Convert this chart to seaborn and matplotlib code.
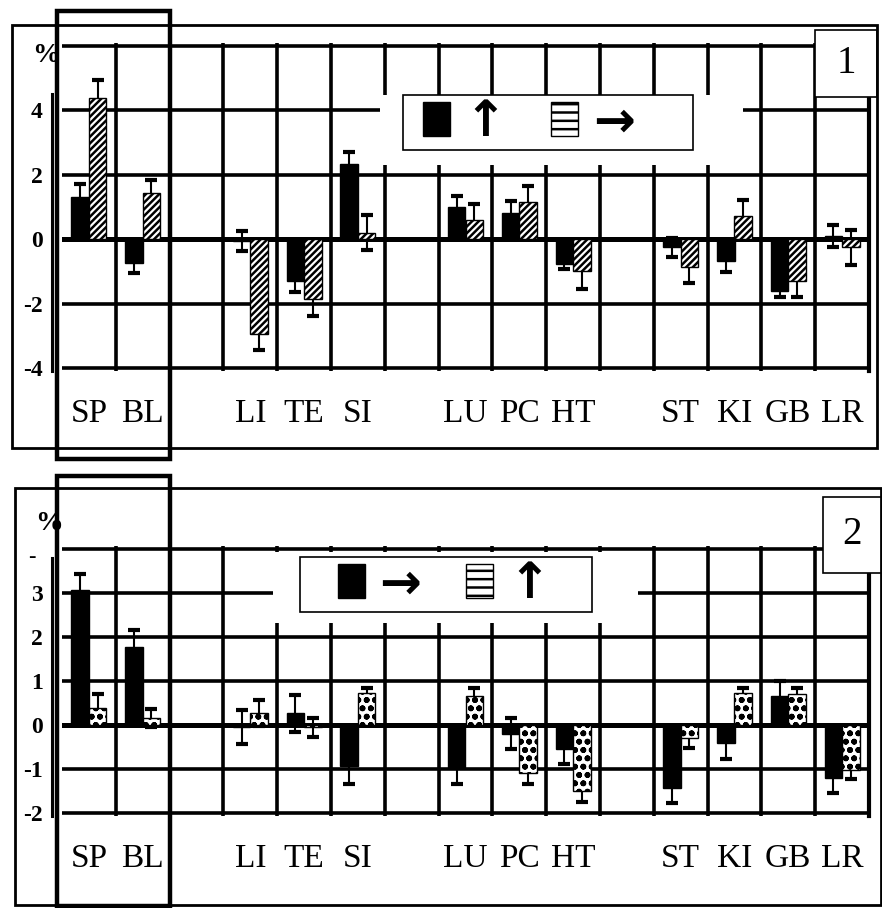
import numpy as np
import pandas as pd
import matplotlib
matplotlib.use("Agg")
import matplotlib.pyplot as plt
import seaborn as sns
from matplotlib.patches import Patch, Rectangle

# column layout of both panels (blank columns are the gaps between organ groups)
columns = ["SP", "BL", "", "LI", "TE", "SI", " ", "LU", "PC", "HT", "  ", "ST", "KI", "GB", "LR"]
organs = ["SP", "BL", "LI", "TE", "SI", "LU", "PC", "HT", "ST", "KI", "GB", "LR"]

# panel 1 (%)
p1_black = [1.3, -0.75, -0.05, -1.3, 2.35, 1.0, 0.8, -0.77, -0.25, -0.68, -1.6, 0.1]
p1_black_err = [0.4, 0.3, 0.32, 0.35, 0.37, 0.35, 0.4, 0.17, 0.3, 0.33, 0.2, 0.35]
p1_hatch = [4.4, 1.45, -2.95, -1.85, 0.2, 0.6, 1.15, -1.0, -0.85, 0.72, -1.3, -0.25]
p1_hatch_err = [0.55, 0.4, 0.5, 0.55, 0.55, 0.5, 0.5, 0.55, 0.5, 0.5, 0.5, 0.55]

# panel 2 (%)
p2_black = [3.07, 1.78, -0.05, 0.27, -0.93, -0.97, -0.2, -0.55, -1.42, -0.4, 0.65, -1.2]
p2_black_err = [0.35, 0.38, 0.38, 0.42, 0.4, 0.36, 0.35, 0.33, 0.35, 0.37, 0.35, 0.35]
p2_hatch = [0.38, 0.16, 0.27, -0.05, 0.72, 0.65, -1.1, -1.5, -0.3, 0.72, 0.7, -1.02]
p2_hatch_err = [0.32, 0.2, 0.3, 0.22, 0.12, 0.18, 0.25, 0.25, 0.22, 0.13, 0.15, 0.2]

plt.rcParams["font.family"] = ["Liberation Serif", "DejaVu Serif"]
plt.rcParams["hatch.linewidth"] = 1.8

W, H = 882, 908
fig = plt.figure(figsize=(W / 100, H / 100), dpi=100)


def fr(x0, y0, x1, y1):
    # pixel box -> figure fraction [left, bottom, width, height]
    return [x0 / W, 1 - y1 / H, (x1 - x0) / W, (y1 - y0) / H]


def panel(ax, black, black_err, hatch, hatch_err, pattern, ylim, yticks, ylabels, spine_top):
    df = pd.DataFrame({"organ": organs * 2,
                       "series": ["a"] * len(organs) + ["b"] * len(organs),
                       "value": black + hatch})
    sns.barplot(data=df, x="organ", y="value", hue="series", order=columns,
                hue_order=["a", "b"], palette={"a": "black", "b": "white"},
                edgecolor="black", linewidth=1, width=0.65, errorbar=None,
                legend=False, ax=ax)
    for bar in ax.containers[1]:
        bar.set_hatch(pattern)
    for cont, err in zip(ax.containers, [black_err, hatch_err]):
        for bar in cont:
            h = bar.get_height()
            if np.isnan(h):
                continue
            xc = bar.get_x() + bar.get_width() / 2
            i = organs.index(columns[int(round(xc))])
            ax.errorbar(xc, h, yerr=err[i], fmt="none", ecolor="black",
                        elinewidth=1.5, capsize=4, capthick=3, zorder=0.9)
    for s in ["top", "bottom"]:
        ax.spines[s].set_visible(False)
    ax.spines["right"].set_linewidth(3)
    ax.spines["left"].set_position(("outward", 7))
    ax.spines["left"].set_linestyle((0, (1, 1)))
    ax.spines["left"].set_linewidth(2.2)
    ax.set_xlim(-0.5, 14.5)
    ax.set_ylim(*ylim)
    ax.spines["left"].set_bounds(ylim[0], spine_top)
    ax.set_xticks(range(len(columns)))
    ax.set_xticklabels(columns)
    ax.set_xticks(np.arange(0.5, 14, 1), minor=True)
    ax.set_yticks(yticks)
    ax.set_yticklabels(ylabels, fontweight="bold")
    ax.grid(which="minor", axis="x", color="black", lw=2.6)
    ax.grid(which="major", axis="y", color="black", lw=2.6)
    ax.axhline(0, color="black", lw=3.6, zorder=0.6)
    ax.set_axisbelow(True)
    ax.tick_params(axis="x", which="both", length=0, pad=20, labelsize=24)
    ax.tick_params(axis="y", length=0, pad=7, labelsize=17)
    ax.set_xlabel("")
    ax.set_ylabel("")


def legend(ax, labels, box, start):
    # white cut-out with a thin frame, then the legend entries inside it
    x0, y0, x1, y1 = box
    ax.add_patch(Rectangle((x0 / W, 1 - y1 / H), (x1 - x0) / W, (y1 - y0) / H,
                           transform=fig.transFigure, facecolor="white",
                           edgecolor="black", lw=1.2, zorder=2.6, clip_on=False))
    handles = [Patch(facecolor="black", edgecolor="black"),
               Patch(facecolor="white", edgecolor="black", hatch="--")]
    ax.legend(handles, labels, loc="center left",
              bbox_to_anchor=(start / W, 1 - (y0 + y1) / 2 / H),
              bbox_transform=fig.transFigure, ncol=2, frameon=False,
              handlelength=0.53, handleheight=0.66, handletextpad=0.3,
              columnspacing=0.9, borderpad=0, borderaxespad=0,
              prop={"family": "DejaVu Sans", "size": 36, "weight": "bold"})


# ---------- panel 1 ----------
ax1 = fig.add_axes(fr(62, 43.4, 869, 370.6))
panel(ax1, p1_black, p1_black_err, p1_hatch, p1_hatch_err, "/////",
      (-4.08, 6.08), [-4, -2, 0, 2, 4, 6], ["-4", "-2", "0", "2", "4", ""], 4.5)
ax1.add_patch(Rectangle((380 / W, 1 - 165 / H), 363 / W, 70 / H, transform=fig.transFigure,
                        facecolor="white", edgecolor="none", zorder=2.5, clip_on=False))
legend(ax1, ["↑", "→"], (403, 95, 693, 150), 423)
fig.text(46 / W, 1 - 56 / H, "%", fontsize=20, fontweight="bold", ha="center", va="center")

# ---------- panel 2 ----------
ax2 = fig.add_axes(fr(62, 546.3, 869, 815.7))
panel(ax2, p2_black, p2_black_err, p2_hatch, p2_hatch_err, "oo",
      (-2.06, 4.06), [-2, -1, 0, 1, 2, 3, 4], ["-2", "-1", "0", "1", "2", "3", ""], 3.8)
ax2.add_patch(Rectangle((273 / W, 1 - 623 / H), 365 / W, 71 / H, transform=fig.transFigure,
                        facecolor="white", edgecolor="none", zorder=2.5, clip_on=False))
legend(ax2, ["→", "↑"], (300, 557, 592, 612), 338)
fig.text(49 / W, 1 - 524 / H, "%", fontsize=20, fontweight="bold", ha="center", va="center")
fig.text(32 / W, 1 - 557 / H, "-", fontsize=16, fontweight="bold", ha="center", va="center")

# outer frames, highlight boxes and panel numbers
for box, lw in [((12, 25, 877, 448), 2.0), ((15, 488, 881, 905), 2.0),
                ((57, 11, 170, 459), 3.2), ((57, 476, 170, 906), 3.2)]:
    x0, y0, x1, y1 = box
    fig.patches.append(Rectangle((x0 / W, 1 - y1 / H), (x1 - x0) / W, (y1 - y0) / H,
                                 transform=fig.transFigure, fill=False,
                                 edgecolor="black", lw=lw, zorder=10))
for (x0, y0, x1, y1), num in [((815, 30, 877, 97), "1"), ((823, 497, 882, 573), "2")]:
    fig.patches.append(Rectangle((x0 / W, 1 - y1 / H), (x1 - x0) / W, (y1 - y0) / H,
                                 transform=fig.transFigure, facecolor="white",
                                 edgecolor="black", lw=1.2, zorder=8))
    fig.text((x0 + x1) / 2 / W, 1 - (y0 + y1) / 2 / H, num, fontsize=28,
             ha="center", va="center", zorder=9)

fig.savefig("out.png", dpi=100)
